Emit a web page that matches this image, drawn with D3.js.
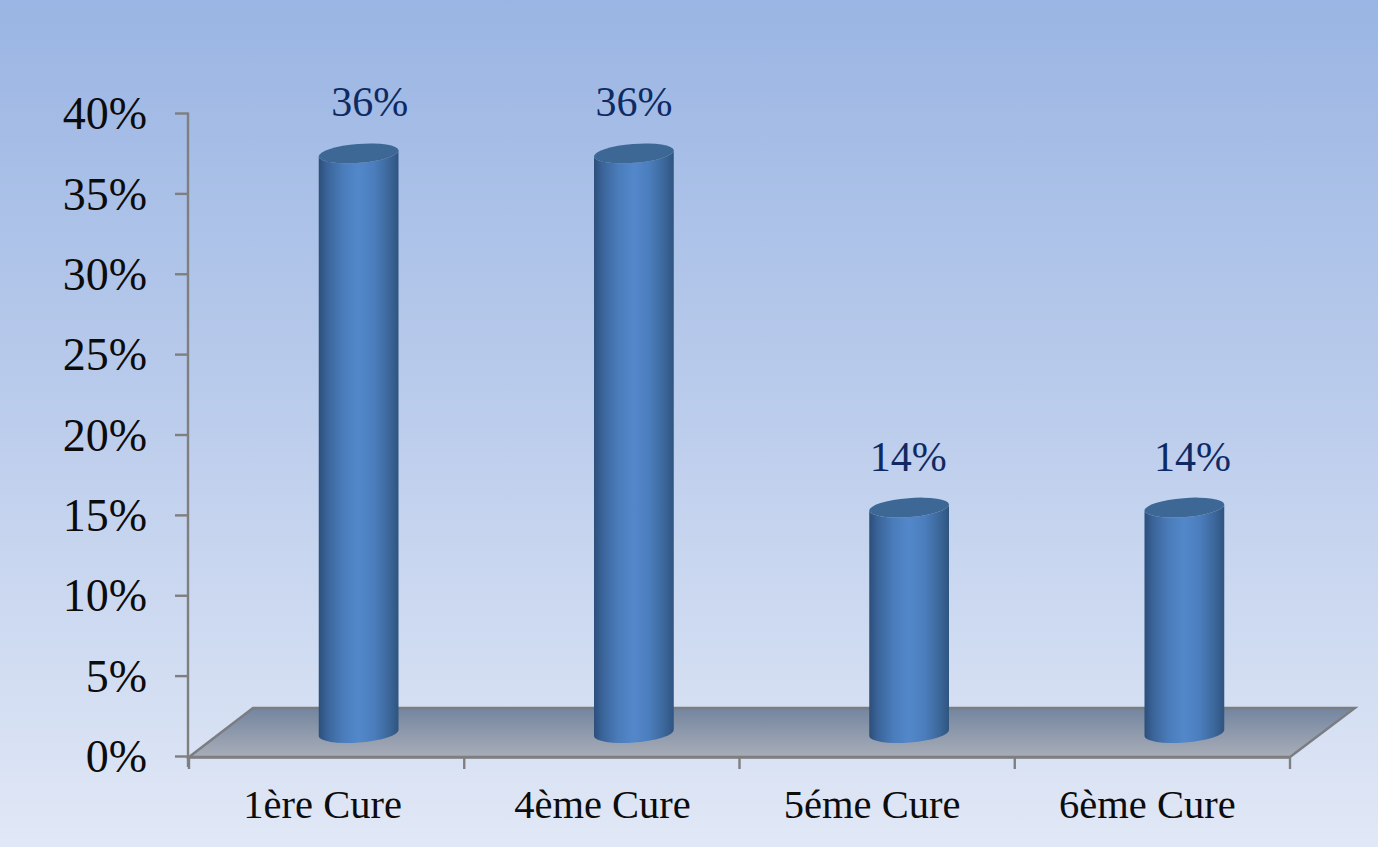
<!DOCTYPE html>
<html><head><meta charset="utf-8">
<script src="https://cdn.jsdelivr.net/npm/d3@7"></script>
<style>
html,body{margin:0;padding:0;background:#fff;overflow:hidden}
svg{display:block}
text{font-family:"Liberation Serif",serif}
</style></head><body>
<svg id="chart" width="1378" height="847"></svg>
<script>
const categories = ["1ère Cure", "4ème Cure", "5éme Cure", "6ème Cure"];
const values = [36, 36, 14, 14];
const tickValues = [0, 5, 10, 15, 20, 25, 30, 35, 40];

const W = 1378, H = 847;
const svg = d3.select("#chart");
const defs = svg.append("defs");

function linear(id, stops, x2 = "0%", y2 = "100%") {
  const g = defs.append("linearGradient").attr("id", id)
    .attr("x1", "0%").attr("y1", "0%").attr("x2", x2).attr("y2", y2);
  stops.forEach(([o, c]) => g.append("stop").attr("offset", o).attr("stop-color", c));
}
linear("bg", [["0%", "#9ab5e3"], ["50%", "#bccdec"], ["100%", "#e1e8f6"]]);
linear("floor", [["0%", "#73859f"], ["100%", "#a8adb8"]]);
linear("cyl", [["0%", "#2c4e7a"], ["10%", "#3a6398"], ["30%", "#4a7cba"], ["50%", "#5288cb"],
               ["70%", "#4b7dbc"], ["90%", "#3a6496"], ["100%", "#2f5480"]], "100%", "0%");

svg.append("rect").attr("width", W).attr("height", H).attr("fill", "url(#bg)");

// Plot box and the depth offset of the floor
const plotLeft = 189, plotRight = 1290, plotTop = 113, plotBottom = 756;
const depthX = 64, depthY = -49;

const y = d3.scaleLinear().domain([0, 40]).range([plotBottom, plotTop]);
const x = d3.scaleBand().domain(categories).range([plotLeft, plotRight]);

// Floor
svg.append("path")
  .attr("d", d3.line()([[plotLeft, plotBottom + 1], [plotLeft + depthX, plotBottom + 1 + depthY],
    [plotRight + depthX + 1, plotBottom + 1 + depthY], [plotRight, plotBottom + 1]]) + "Z")
  .attr("fill", "url(#floor)").attr("stroke", "#7a7d82").attr("stroke-width", 2.4);

// Value axis
const axisColor = "#7f7f7f";
const yAxis = d3.axisLeft(y).tickValues(tickValues).tickSize(13).tickPadding(28)
  .tickFormat(d => d + "%");
const yG = svg.append("g").attr("transform", `translate(${plotLeft - 1},0)`).call(yAxis);
yG.select(".domain").attr("stroke", axisColor).attr("stroke-width", 2.4)
  .attr("d", `M0,${plotTop - 0.5}V${plotBottom + 11}`);
yG.selectAll("line").attr("stroke", axisColor).attr("stroke-width", 2.4);
yG.selectAll("text").attr("font-size", 46).attr("fill", "#0c0c0c")
  .attr("font-family", "Liberation Serif").attr("dy", "0.34em");

// Category axis
const catShift = [-4, 0.6, -5, -5];
const xAxis = d3.axisBottom(x).tickValues([]).tickSize(0);
const xG = svg.append("g").attr("transform", `translate(0,${plotBottom + 1})`).call(xAxis);
xG.select(".domain").attr("stroke", axisColor).attr("stroke-width", 2.4);
xG.selectAll(".cat-tick").data(d3.range(categories.length + 1)).join("line")
  .attr("class", "cat-tick")
  .attr("x1", i => plotLeft + i * x.step()).attr("x2", i => plotLeft + i * x.step())
  .attr("y1", 0).attr("y2", 12)
  .attr("stroke", axisColor).attr("stroke-width", 2.4);
xG.selectAll(".cat-label").data(categories).join("text")
  .attr("class", "cat-label")
  .attr("x", (d, i) => x(d) + x.bandwidth() / 2 + catShift[i])
  .attr("y", 61)
  .attr("text-anchor", "middle")
  .attr("font-size", 40.5).attr("fill", "#0c0c0c")
  .text(d => d);

// Cylinders stand on the floor, half a depth step behind the front edge
const cylHeight = d3.scaleLinear().domain([0, 40]).range([0, 644]);
const rx = 40, ry = 9.5, tilt = -4.5;
const baseY = plotBottom + depthY / 2 + 1.5;
const t = tilt * Math.PI / 180;
const ex = rx * Math.cos(t), ey = rx * Math.sin(t);
const labelShift = [11, 0, -1, 8];

const bars = svg.append("g").selectAll("g").data(categories).join("g")
  .attr("transform", d => `translate(${x(d) + x.bandwidth() / 2 + depthX / 2},0)`);

bars.append("path")
  .attr("fill", "url(#cyl)")
  .attr("d", (d, i) => {
    const ty = baseY - cylHeight(values[i]);
    return `M${-ex},${ty - ey} L${-ex},${baseY - ey}` +
      `A${rx},${ry} ${tilt} 0 0 ${ex},${baseY + ey}` +
      `L${ex},${ty + ey}` +
      `A${rx},${ry} ${tilt} 0 1 ${-ex},${ty - ey}Z`;
  });
bars.append("ellipse")
  .attr("rx", rx).attr("ry", ry)
  .attr("transform", (d, i) => `translate(0,${baseY - cylHeight(values[i])}) rotate(${tilt})`)
  .attr("fill", "#3d6896");

// Value labels
bars.append("text")
  .attr("x", (d, i) => labelShift[i])
  .attr("y", (d, i) => baseY - cylHeight(values[i]) - 37)
  .attr("text-anchor", "middle")
  .attr("font-size", 42).attr("fill", "#0f2a63")
  .text((d, i) => values[i] + "%");
</script>
</body></html>
